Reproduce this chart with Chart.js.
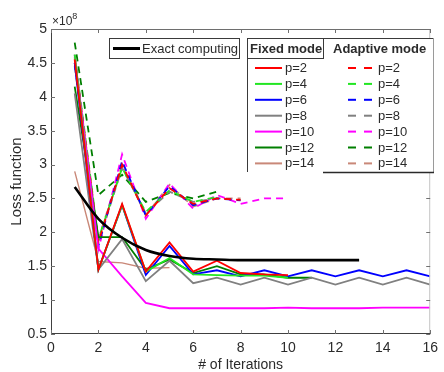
<!DOCTYPE html>
<html>
<head>
<meta charset="utf-8">
<script src="https://cdn.jsdelivr.net/npm/chart.js@4.4.0/dist/chart.umd.min.js"></script>
<style>
  html, body { margin: 0; padding: 0; background: #fff; }
  #lossChart { display: block; }
</style>
</head>
<body>
<canvas id="lossChart" width="444" height="372"></canvas>
<script>
// Loss values in units of 1e8, one entry per iteration (starting at iteration 1)
const exactLoss = [2.67, 2.2, 1.92, 1.74, 1.65, 1.61, 1.6, 1.59, 1.59, 1.59, 1.59, 1.59, 1.59];

const fixedP2  = [4.55, 1.45, 2.42, 1.42, 1.85, 1.42, 1.58, 1.4, 1.38, 1.37];
const fixedP4  = [4.62, 1.45, 2.4, 1.42, 1.62, 1.38, 1.37, 1.36, 1.36, 1.33];
const fixedP6  = [4.5, 1.45, 2.4, 1.37, 1.8, 1.38, 1.44, 1.35, 1.44, 1.35, 1.44, 1.35, 1.44, 1.35, 1.44, 1.35];
const fixedP8  = [4.05, 1.45, 1.9, 1.28, 1.58, 1.25, 1.33, 1.23, 1.33, 1.23, 1.33, 1.23, 1.33, 1.23, 1.33, 1.23];
const fixedP10 = [4.6, 1.76, 1.35, 0.96, 0.88, 0.88, 0.88, 0.88, 0.88, 0.89, 0.88, 0.88, 0.88, 0.89, 0.89, 0.89];
const fixedP12 = [4.15, 1.93, 1.93, 1.45, 1.6, 1.4, 1.5, 1.38, 1.38, 1.33, 1.33];
const fixedP14 = [2.9, 1.57, 1.55, 1.47, 1.48];

const adaptiveP2  = [4.58, 1.85, 3.0, 2.25, 2.65, 2.42, 2.5, 2.48];
const adaptiveP4  = [4.62, 1.9, 2.95, 2.3, 2.62, 2.45, 2.52];
const adaptiveP6  = [4.5, 1.8, 3.05, 2.25, 2.68, 2.4, 2.5, 2.47];
const adaptiveP8  = [4.45, 1.85, 2.95, 2.28, 2.6, 2.45, 2.5];
const adaptiveP10 = [4.62, 1.75, 3.15, 2.2, 2.72, 2.35, 2.55, 2.42, 2.5, 2.5];
const adaptiveP12 = [4.8, 2.55, 2.85, 2.45, 2.58, 2.5, 2.6];
const adaptiveP14 = [4.55, 1.9, 3.0, 2.25, 2.7, 2.38, 2.5, 2.5];

const pLabels = ['p=2', 'p=4', 'p=6', 'p=8', 'p=10', 'p=12', 'p=14'];
const pColors = ['#ff0000', '#22e622', '#0000ff', '#808080', '#ff00ff', '#007f00', '#c98878'];
const xTickValues = [0, 2, 4, 6, 8, 10, 12, 14, 16];
const yTickValues = [0.5, 1, 1.5, 2, 2.5, 3, 3.5, 4, 4.5, 5];

const fixedSeries = [fixedP2, fixedP4, fixedP6, fixedP8, fixedP10, fixedP12, fixedP14];
const adaptiveSeries = [adaptiveP2, adaptiveP4, adaptiveP6, adaptiveP8, adaptiveP10, adaptiveP12, adaptiveP14];

const toPoints = arr => arr.map((v, i) => ({ x: i + 1, y: v }));

const FONT = '"Liberation Sans", Arial, Helvetica, sans-serif';
const TEXT = '#2b2b2b';

const datasets = [{
  label: 'Exact computing',
  mode: 'exact',
  data: toPoints(exactLoss),
  borderColor: '#000000',
  borderWidth: 2.6,
  cubicInterpolationMode: 'monotone'
}];
fixedSeries.forEach((s, i) => datasets.push({
  label: pLabels[i],
  mode: 'fixed',
  data: toPoints(s),
  borderColor: pColors[i],
  borderWidth: i === 6 ? 1.4 : 1.8
}));
adaptiveSeries.forEach((s, i) => datasets.push({
  label: pLabels[i],
  mode: 'adaptive',
  data: toPoints(s),
  borderColor: pColors[i],
  borderWidth: 1.8,
  borderDash: [7, 5]
}));

// axis frame, inward tick marks and the x10^8 exponent
const framePlugin = {
  id: 'frame',
  afterDatasetsDraw(chart) {
    const { ctx, chartArea: a, scales: { x, y } } = chart;
    ctx.save();
    ctx.lineWidth = 1;
    ctx.strokeStyle = '#6e6e6e';
    ctx.beginPath();
    ctx.moveTo(a.left + 0.5, a.top + 0.5);
    ctx.lineTo(a.right, a.top + 0.5);
    ctx.stroke();
    ctx.strokeStyle = '#c4c4c4';
    ctx.beginPath();
    ctx.moveTo(a.right - 0.5, a.top);
    ctx.lineTo(a.right - 0.5, a.bottom);
    ctx.stroke();
    ctx.strokeStyle = '#404040';
    ctx.beginPath();
    ctx.moveTo(a.left + 0.5, a.top);
    ctx.lineTo(a.left + 0.5, a.bottom - 0.5);
    ctx.lineTo(a.right, a.bottom - 0.5);
    ctx.stroke();

    ctx.strokeStyle = '#707070';
    ctx.beginPath();
    xTickValues.forEach(v => {
      const px = Math.round(x.getPixelForValue(v)) + 0.5;
      ctx.moveTo(px, a.bottom); ctx.lineTo(px, a.bottom - 4);
      ctx.moveTo(px, a.top); ctx.lineTo(px, a.top + 4);
    });
    yTickValues.forEach(v => {
      const py = Math.round(y.getPixelForValue(v)) + 0.5;
      ctx.moveTo(a.left, py); ctx.lineTo(a.left + 4, py);
      ctx.moveTo(a.right, py); ctx.lineTo(a.right - 4, py);
    });
    ctx.stroke();

    ctx.fillStyle = TEXT;
    ctx.textBaseline = 'alphabetic';
    ctx.font = '12px ' + FONT;
    ctx.fillText('\u00d710', a.left + 1, a.top - 4);
    const w = ctx.measureText('\u00d710').width;
    ctx.font = '9px ' + FONT;
    ctx.fillText('8', a.left + 1 + w, a.top - 10);
    ctx.restore();
  }
};

// three-part legend: exact / fixed mode / adaptive mode
const legendPlugin = {
  id: 'groupedLegend',
  afterDraw(chart) {
    const { ctx } = chart;
    const sets = chart.data.datasets;
    ctx.save();
    ctx.fillStyle = '#ffffff';
    ctx.fillRect(109, 38, 130, 20);
    ctx.fillRect(247, 38, 186, 135);
    ctx.lineWidth = 1;
    ctx.strokeStyle = '#3a3a3a';
    ctx.strokeRect(109.5, 38.5, 130, 20);
    ctx.strokeRect(247.5, 38.5, 76, 20);
    ctx.beginPath();
    ctx.moveTo(247.5, 58); ctx.lineTo(247.5, 172);
    ctx.moveTo(323.5, 38.5); ctx.lineTo(433.5, 38.5);
    ctx.stroke();
    ctx.strokeStyle = '#9a9a9a';
    ctx.beginPath();
    ctx.moveTo(433.5, 38.5); ctx.lineTo(433.5, 172);
    ctx.stroke();
    ctx.strokeStyle = '#2a2a2a';
    ctx.lineWidth = 1.5;
    ctx.beginPath();
    ctx.moveTo(323, 172.5); ctx.lineTo(434, 172.5);
    ctx.stroke();

    ctx.textBaseline = 'middle';
    ctx.fillStyle = TEXT;
    ctx.font = 'bold 13px ' + FONT;
    ctx.fillText('Fixed mode', 250, 49);
    ctx.fillText('Adaptive mode', 333, 49);

    ctx.font = '13px ' + FONT;
    let fi = 0, ai = 0;
    sets.forEach(ds => {
      ctx.strokeStyle = ds.borderColor;
      ctx.setLineDash([]);
      ctx.beginPath();
      if (ds.mode === 'exact') {
        ctx.lineWidth = 3;
        ctx.moveTo(113, 48.5); ctx.lineTo(140, 48.5);
        ctx.stroke();
        ctx.fillText(ds.label, 142, 49);
      } else if (ds.mode === 'fixed') {
        const yy = 68 + fi * 15.9;
        ctx.lineWidth = 2;
        ctx.moveTo(255, yy); ctx.lineTo(282, yy);
        ctx.stroke();
        ctx.fillText(ds.label, 285, yy + 0.5);
        fi++;
      } else {
        const yy = 68 + ai * 15.9;
        ctx.lineWidth = 2;
        ctx.setLineDash([8, 8]);
        ctx.moveTo(348, yy); ctx.lineTo(372, yy);
        ctx.stroke();
        ctx.setLineDash([]);
        ctx.fillText(ds.label, 378, yy + 0.5);
        ai++;
      }
    });
    ctx.restore();
  }
};

const ctx = document.getElementById('lossChart').getContext('2d');
const lossChart = new Chart(ctx, {
  type: 'line',
  data: { datasets: datasets },
  options: {
    responsive: false,
    animation: false,
    layout: { padding: { top: 29, right: 8, left: 0, bottom: 0 } },
    elements: { point: { radius: 0 }, line: { tension: 0, fill: false } },
    plugins: { legend: { display: false }, tooltip: { enabled: false } },
    scales: {
      x: {
        type: 'linear',
        min: 0,
        max: 16,
        afterFit: s => { s.height = 38; },
        afterBuildTicks: s => { s.ticks = xTickValues.map(v => ({ value: v })); },
        ticks: { padding: 6, color: TEXT, font: { family: FONT, size: 14 }, maxRotation: 0 },
        grid: { display: false, drawTicks: false },
        border: { display: false },
        title: { display: true, text: '# of Iterations', color: TEXT, font: { family: FONT, size: 14, lineHeight: 1 }, padding: { top: 0, bottom: 0 } }
      },
      y: {
        type: 'linear',
        min: 0.5,
        max: 5,
        afterFit: s => { s.width = 51; },
        afterBuildTicks: s => { s.ticks = yTickValues.map(v => ({ value: v })); },
        ticks: { padding: 4, color: TEXT, font: { family: FONT, size: 14 }, callback: v => String(v) },
        grid: { display: false, drawTicks: false },
        border: { display: false },
        title: { display: true, text: 'Loss function', color: TEXT, font: { family: FONT, size: 15 }, padding: { top: 8, bottom: 0 } }
      }
    }
  },
  plugins: [framePlugin, legendPlugin]
});
</script>
</body>
</html>
